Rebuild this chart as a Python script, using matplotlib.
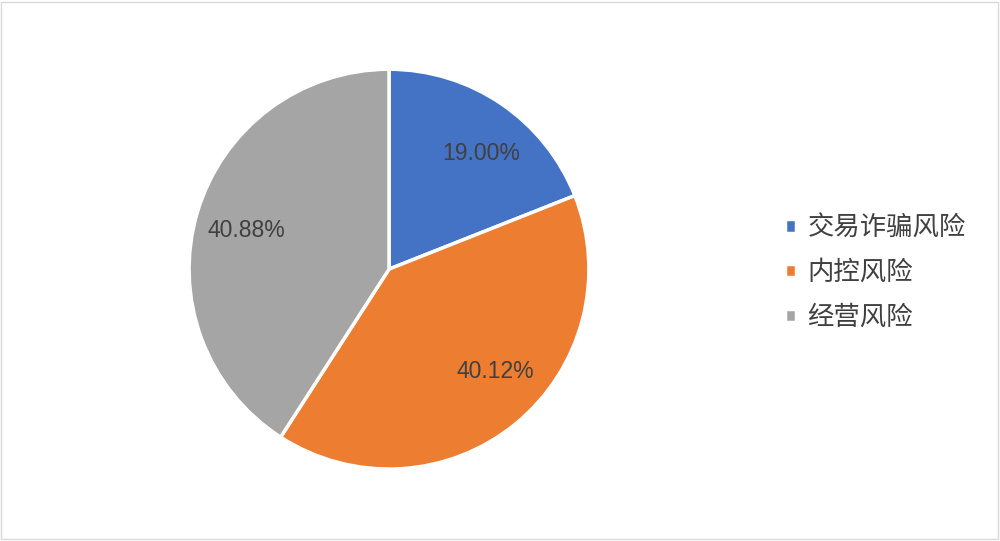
import numpy as np
import matplotlib.pyplot as plt
from matplotlib.patches import Rectangle

plt.rcParams['font.family'] = ['Noto Sans CJK SC', 'DejaVu Sans']

# 数据
labels = ['交易诈骗风险', '内控风险', '经营风险']
values = [19.00, 40.12, 40.88]
colors = ['#4472C4', '#ED7D31', '#A5A5A5']

fig = plt.figure(figsize=(10, 5.41), dpi=100)
ax = fig.add_axes([0.189, 0.133, 0.4, 0.739])

wedges, texts, autotexts = ax.pie(
    values, colors=colors, startangle=90, counterclock=False,
    autopct='%.2f%%', pctdistance=0.74,
    wedgeprops=dict(edgecolor='white', linewidth=2.5),
    textprops=dict(color='#404040', fontsize=16.5, family='Liberation Sans'),
)
ax.set_xlim(-1, 1)
ax.set_ylim(-1, 1)
ax.set_aspect('equal')

# 标签位置微调 (类似 Excel 的最佳位置)
nudge = [-4.4, 6.7, 1.2]
for w, t, d in zip(wedges, autotexts, nudge):
    ang = np.deg2rad((w.theta1 + w.theta2) / 2 + d)
    t.set_position((0.74 * np.cos(ang), 0.74 * np.sin(ang)))

leg = fig.legend(
    wedges, labels, loc='center left', bbox_to_anchor=(0.785, 0.496),
    frameon=False, fontsize=19, handlelength=0.4, handleheight=0.4,
    handletextpad=0.45, labelspacing=0.67, labelcolor='#404040',
    borderpad=0, borderaxespad=0,
)

# 外框
fig.patches.append(Rectangle((0.001, 0.004), 0.997, 0.993, transform=fig.transFigure,
                             fill=False, edgecolor='#D9D9D9', linewidth=1))

fig.savefig('out.png', dpi=100)
